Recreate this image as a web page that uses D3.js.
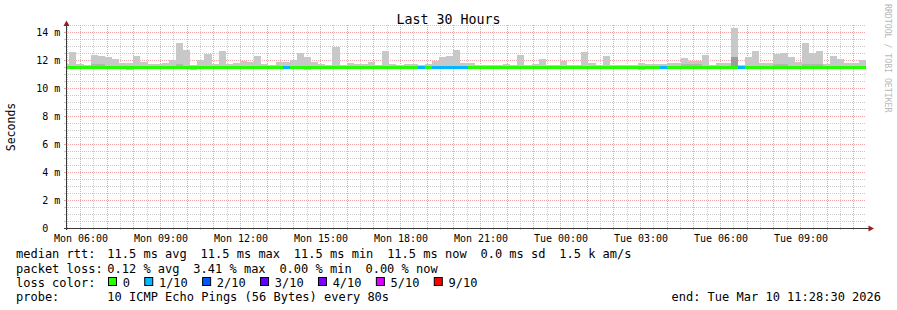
<!DOCTYPE html>
<html><head><meta charset="utf-8">
<script src="https://cdn.jsdelivr.net/npm/d3@7"></script>
<style>
html,body{margin:0;padding:0;background:#fff;}
svg{display:block;}
text{font-family:"DejaVu Sans Mono",monospace;fill:#000;}
</style></head><body>
<svg id="c" width="897" height="310"></svg>
<script>
// ---------------- DATA ----------------
const title = "Last 30 Hours";
const yTitle = "Seconds";
const watermark = "RRDTOOL / TOBI OETIKER";
const endTime = "2026-03-10T11:28:30Z";
const spanHours = 30;
const binStart = "2026-03-09T05:36:00Z";   // first full consolidation bin
const binSeconds = 960;
const medianRtt = 11.5;                     // ms, constant median line
const yTickValues = [0, 2, 4, 6, 8, 10, 12, 14];
const yUnit = "m";

// top of smoke (ms) per bin; first entry is the partial bin before binStart
const smokeMax = [11.74,
 12.57,11.74,11.62,12.36,12.31,12.21,12.07,11.81,11.81,12.29,
 11.86,11.74,11.74,11.80,12.00,13.21,12.71,11.67,12.00,12.43,
 11.74,12.64,11.70,11.79,11.93,11.86,12.29,11.74,11.67,11.86,
 11.86,12.00,12.50,12.21,11.86,11.72,11.64,12.95,11.64,11.79,
 11.70,11.72,11.86,11.67,12.64,11.70,11.64,11.70,11.70,11.64,
 11.70,11.93,12.21,12.29,12.71,11.76,11.79,11.62,11.62,11.62,
 11.62,11.72,11.62,12.38,11.62,11.72,12.07,11.62,11.62,11.93,
 11.62,11.62,12.57,11.79,11.64,12.29,11.62,11.62,11.62,11.62,
 11.79,11.72,11.72,11.72,11.76,11.76,12.14,11.93,11.93,12.36,
 11.62,11.79,11.79,14.29,11.62,12.21,12.64,11.76,11.76,12.43,
 12.50,12.21,11.86,13.21,12.50,12.64,11.72,12.29,12.07,11.76,
 11.76,12.00];
// bottom of smoke (ms), default and the bins where it shows below the median
const smokeMinDefault = 11.42;
const smokeMinLow = [[9,11.30],[18,11.30],[31,11.33],[34,11.30],[81,11.30]];
// denser (darker) smoke top for some bins
const smokeDense = [[4,11.72],[5,11.72],[16,11.70],[87,11.70],[88,11.70],[89,11.70],[94,12.22],[100,11.72],[101,11.72],[104,11.70],[105,11.70],[106,11.70]];
// packet loss per bin, in tenths (10 pings)
const lossTenths = [0,
 0,0,0,0,0,0,0,0,0,0,
 0,0,0,0,0,0,0,0,0,0,
 0,0,0,0,0,0,0,0,0,0,
 1,0,0,0,0,0,0,0,0,0,
 0,0,0,0,0,0,0,0,0,1,
 0,1,1,1,1,1,0,0,0,0,
 0,0,0,0,0,0,0,0,0,0,
 0,0,0,0,0,0,0,0,0,0,
 0,0,0,1,0,0,0,0,0,0,
 0,0,0,0,1,0,0,0,0,0,
 0,0,0,0,0,0,0,0,0,0,
 0,0];
const lossLabels = ["0","1/10","2/10","3/10","4/10","5/10","9/10"];
const lossColors = ["#26ff00","#00b8ff","#0059ff","#5e00ff","#7e00ff","#dd00ff","#ff0000"];
const lossThresholds = [0,1,2,3,4,5,9];
const rttLabel = "median rtt:";
const rttStats = ["11.5 ms avg","11.5 ms max","11.5 ms min","11.5 ms now","0.0 ms sd","1.5 k am/s"];
const lossLabel = "packet loss:";
const lossStats = ["0.12 % avg","3.41 % max","0.00 % min","0.00 % now"];
const colorLabel = "loss color:";
const probeLabel = "probe:";
const probeText = "10 ICMP Echo Pings (56 Bytes) every 80s";
const endText = "end: Tue Mar 10 11:28:30 2026";

// ---------------- CHART ----------------
const svg = d3.select("#c");
svg.append("rect").attr("width",897).attr("height",310).attr("fill","#fff");
const P = {left:66, right:866, top:25, bottom:228};
const tEnd = new Date(endTime);
const tStart = new Date(+tEnd - spanHours*3600e3);
const x = d3.scaleUtc().domain([tStart,tEnd]).range([P.left,P.right]);
const y = d3.scaleLinear().domain([0,14.5]).range([P.bottom,P.top]);
const px = v => Math.round(v)+0.5;

const MINOR = "#cbcbcb", MAJOR = "#f3a3a3";
const grid = svg.append("g").attr("stroke-dasharray","1,1").attr("stroke-width",1).attr("fill","none");
// horizontal grid
const yMinor = d3.range(0.5, 14.5+1e-9, 0.5).filter(v => Math.abs(v/2-Math.round(v/2))>1e-9);
const yMajor = d3.range(2, 14+1e-9, 2);
grid.selectAll(".hmin").data(yMinor).join("line")
  .attr("x1",P.left).attr("x2",P.right).attr("y1",d=>px(y(d))).attr("y2",d=>px(y(d))).attr("stroke",MINOR);
grid.selectAll(".hmaj").data(yMajor).join("line")
  .attr("x1",P.left).attr("x2",P.right).attr("y1",d=>px(y(d))).attr("y2",d=>px(y(d))).attr("stroke",MAJOR);
// vertical grid
const xMajor = d3.utcHour.range(tStart,tEnd);
const xMinor = d3.utcMinute.every(30).range(tStart,tEnd).filter(t=>t.getUTCMinutes()!==0);
grid.selectAll(".vmin").data(xMinor).join("line")
  .attr("y1",P.top).attr("y2",P.bottom).attr("x1",d=>px(x(d))).attr("x2",d=>px(x(d))).attr("stroke",MINOR);
grid.selectAll(".vmaj").data(xMajor).join("line")
  .attr("y1",P.top).attr("y2",P.bottom).attr("x1",d=>px(x(d))).attr("x2",d=>px(x(d))).attr("stroke",MAJOR);

// bins
const b0 = new Date(binStart);
const minMap = new Map(smokeMinLow), denseMap = new Map(smokeDense);
const bins = smokeMax.map((v,i)=>({
  i,
  s: i===0 ? tStart : new Date(+b0 + (i-1)*binSeconds*1000),
  e: new Date(+b0 + i*binSeconds*1000),
  max: v,
  min: minMap.has(i) ? minMap.get(i) : smokeMinDefault,
  dense: denseMap.get(i),
  loss: lossTenths[i]
}));
const xs = d => Math.round(x(d.s)), xe = d => Math.round(x(d.e));
const g = svg.append("g").attr("shape-rendering","crispEdges");
g.selectAll(".smoke").data(bins).join("rect")
  .attr("x",xs).attr("width",d=>xe(d)-xs(d))
  .attr("y",d=>Math.round(y(d.max))).attr("height",d=>Math.round(y(d.min))-Math.round(y(d.max)))
  .attr("fill","#c8c8c8");
g.selectAll(".dense").data(bins.filter(d=>d.dense!==undefined)).join("rect")
  .attr("x",xs).attr("width",d=>xe(d)-xs(d))
  .attr("y",d=>Math.round(y(d.dense))).attr("height",d=>Math.round(y(smokeMinDefault))-Math.round(y(d.dense)))
  .attr("fill",d=>d.dense>12?"#9c9c9c":"#b4b4b4");
const lossColor = l => lossColors[d3.bisectRight(lossThresholds,l)-1];
g.selectAll(".med").data(bins).join("rect")
  .attr("x",xs).attr("width",d=>xe(d)-xs(d))
  .attr("y",Math.round(y(medianRtt))-1).attr("height",3)
  .attr("fill",d=>lossColor(d.loss));

// axis ticks
const tk = svg.append("g").attr("shape-rendering","crispEdges");
tk.selectAll(".yt").data(yMinor.concat(yMajor)).join("line")
  .attr("x1",P.left-2).attr("x2",P.left).attr("y1",d=>px(y(d))).attr("y2",d=>px(y(d)))
  .attr("stroke",d=>d%2===0?MAJOR:MINOR);
tk.selectAll(".xt").data(xMajor.concat(xMinor)).join("line")
  .attr("y1",P.bottom).attr("y2",P.bottom+2).attr("x1",d=>px(x(d))).attr("x2",d=>px(x(d)))
  .attr("stroke",d=>d.getUTCMinutes()===0?MAJOR:MINOR);

// axes
const AX="#3a3a3a", AR="#a01c1c";
svg.append("line").attr("x1",P.left+0.5).attr("x2",P.left+0.5).attr("y1",P.bottom+2).attr("y2",P.top-1).attr("stroke",AX);
svg.append("line").attr("x1",P.left-2).attr("x2",P.right+4).attr("y1",P.bottom+0.5).attr("y2",P.bottom+0.5).attr("stroke",AX);
svg.append("path").attr("d",`M${P.left+0.5},${P.top-4.5} L${P.left-2.5},${P.top+1} L${P.left+3.5},${P.top+1} Z`).attr("fill",AR);
svg.append("path").attr("d",`M${P.right+8},${P.bottom+0.5} L${P.right+2.5},${P.bottom-2.5} L${P.right+2.5},${P.bottom+3.5} Z`).attr("fill",AR);

// y tick labels
const yl = svg.append("g").attr("font-size","10px");
yl.selectAll(".yn").data(yTickValues).join("text")
  .attr("x",48.3).attr("y",d=>y(d)+3.8).attr("text-anchor","end").text(d=>d);
yl.selectAll(".yu").data(yTickValues.filter(v=>v!==0)).join("text")
  .attr("x",54.3).attr("y",d=>y(d)+3.8).text(yUnit);
// x tick labels
const fmt = d3.utcFormat("%a %H:%M");
svg.append("g").attr("font-size","10px").selectAll("text").data(d3.utcHour.every(3).range(tStart,tEnd)).join("text")
  .attr("x",d=>x(d)+1).attr("y",241.5).attr("text-anchor","middle").text(fmt);

// titles
svg.append("text").attr("x",448.5).attr("y",23.5).attr("text-anchor","middle").attr("font-size","13.3px").text(title);
svg.append("text").attr("transform","translate(14.5,127) rotate(-90)").attr("text-anchor","middle").attr("font-size","11.5px").text(yTitle);
svg.append("text").attr("transform","translate(885,4) rotate(90)").attr("font-size","8.2px").style("fill","#b8b8b8").text(watermark);

// legend
const L = svg.append("g").attr("font-size","12px");
const GAP = 13.8, VX = 107.3;
function row(yy, label, items){
  L.append("text").attr("x",16).attr("y",yy).text(label);
  let cx = VX;
  items.forEach(s=>{
    const t = L.append("text").attr("x",cx).attr("y",yy).text(s);
    cx += t.node().getComputedTextLength() + GAP;
  });
}
row(258, rttLabel, rttStats);
row(272.5, lossLabel, lossStats);
L.append("text").attr("x",16).attr("y",287).text(colorLabel);
let bx = 108.5;
lossLabels.forEach((lab,i)=>{
  L.append("rect").attr("x",bx).attr("y",277.5).attr("width",8).attr("height",8)
    .attr("fill",lossColors[i]).attr("stroke","#000").attr("stroke-width",1);
  const t = L.append("text").attr("x",bx+14.2).attr("y",287).text(lab);
  bx = bx + 14.2 + t.node().getComputedTextLength() + 14.8;
});
L.append("text").attr("x",16).attr("y",301).text(probeLabel);
L.append("text").attr("x",VX).attr("y",301).text(probeText);
L.append("text").attr("x",881).attr("y",301).attr("text-anchor","end").text(endText);
</script>
</body></html>
